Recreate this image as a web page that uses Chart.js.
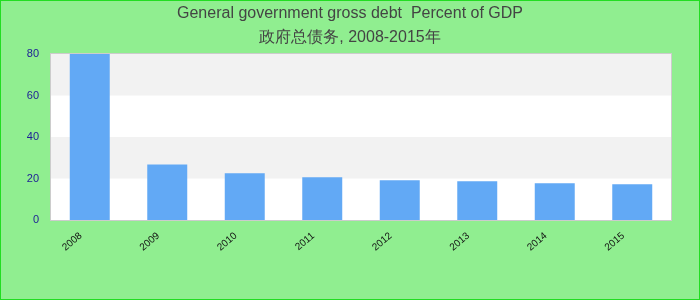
<!DOCTYPE html>
<html>
<head>
<meta charset="utf-8">
<script src="https://cdn.jsdelivr.net/npm/chart.js@4.4.1/dist/chart.umd.min.js"></script>
<style>
  html,body{margin:0;padding:0;background:#90ee90;}
  #c{display:block;}
</style>
</head>
<body>
<canvas id="c" width="700" height="300"></canvas>
<script>
// data
const years=['2008','2009','2010','2011','2012','2013','2014','2015'];
const debt=[80,26.8,22.5,20.6,19.2,18.7,17.7,17.2];
const yTicks=[0,20,40,60,80];
const titleLines=['General government gross debt  Percent of GDP','政府总债务, 2008-2015年'];

// page background, banded plot, frame
const deco={
  id:'deco',
  beforeDraw(ch){
    const c=ch.ctx, a=ch.chartArea, y=ch.scales.y;
    c.save();
    c.fillStyle='#90ee90'; c.fillRect(0,0,ch.width,ch.height);
    c.strokeStyle='#22dd22'; c.lineWidth=1; c.strokeRect(0.5,0.5,ch.width-1,ch.height-1);
    c.fillStyle='#ffffff'; c.fillRect(a.left,a.top,a.right-a.left,a.bottom-a.top);
    c.fillStyle='#f2f2f2';
    for(let i=1;i<yTicks.length-1;i+=2){
      const t=y.getPixelForValue(yTicks[i+1]), b=y.getPixelForValue(yTicks[i]);
      c.fillRect(a.left,t,a.right-a.left,b-t);
    }
    c.restore();
  },
  afterDatasetsDraw(ch){
    const c=ch.ctx, a=ch.chartArea;
    c.save(); c.strokeStyle='#cccccc'; c.lineWidth=1;
    c.strokeRect(a.left-0.5,a.top-0.5,a.right-a.left+1,a.bottom-a.top+1);
    c.restore();
  }
};

const font='"Liberation Sans", Arial, sans-serif';

new Chart(document.getElementById('c'),{
  type:'bar',
  data:{labels:years,datasets:[{data:debt,backgroundColor:'#62a9f5',borderWidth:0,
    categoryPercentage:1,barPercentage:0.516}]},
  options:{
    responsive:false,animation:false,
    layout:{padding:0},
    plugins:{
      legend:{display:false},tooltip:{enabled:false},
      title:{display:true,text:titleLines,color:'#444444',
        font:{family:font,size:16,weight:'normal',lineHeight:1.5},
        padding:{top:2,bottom:4}}
    },
    scales:{
      y:{min:0,max:80,
        afterFit(s){s.width=51;},
        afterBuildTicks(s){s.ticks=yTicks.map(v=>({value:v}));},
        grid:{display:false,drawTicks:false},border:{display:false},
        ticks:{color:'#1c1c96',padding:12,font:{family:font,size:11}}},
      // empty right gutter so the title stays centred on the page
      gutter:{position:'right',display:true,afterFit(s){s.width=29;},
        grid:{display:false,drawTicks:false},border:{display:false},ticks:{display:false}},
      x:{
        afterFit(s){s.height=80;},
        grid:{display:false,drawTicks:false},border:{display:false},
        ticks:{color:'#111111',minRotation:40,maxRotation:40,padding:10,labelOffset:-9,
          font:{family:font,size:10}}}
    }
  },
  plugins:[deco]
});
</script>
</body>
</html>
